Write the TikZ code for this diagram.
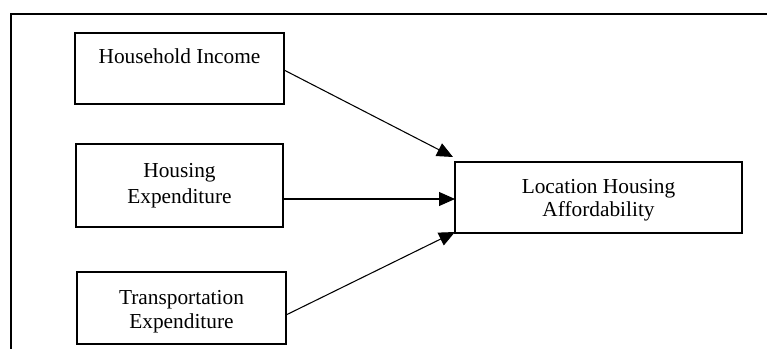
\documentclass[tikz,border=0pt]{standalone}
\usepackage{fontspec}
\setmainfont{Liberation Serif}
\usetikzlibrary{arrows.meta,calc}
\begin{document}
\begin{tikzpicture}[x=0.75pt,y=-0.75pt,
  boxnode/.style={draw=black,line width=2pt,inner sep=0pt,outer sep=0pt},
  txt/.style={font=\fontsize{16}{19}\selectfont,anchor=base,inner sep=0pt},
  conn/.style={line width=0.8pt,-{Triangle[length=12pt,width=10.5pt]}},
  frame/.style={line width=0.8pt}]
\useasboundingbox (0,0) rectangle (767,349);
% frame
\coordinate (f1) at (11,349);
\coordinate (f2) at (11,14);
\coordinate (f3) at (767,14);
\draw[frame] (f1) -- (f2) -- (f3);
% boxes
\node[boxnode,minimum width=209*0.75pt,minimum height=71*0.75pt] (hi) at (179.5,68.5) {};
\node[boxnode,minimum width=207*0.75pt,minimum height=83*0.75pt] (he) at (179.5,185.5) {};
\node[boxnode,minimum width=209*0.75pt,minimum height=72*0.75pt] (te) at (181.5,308) {};
\node[boxnode,minimum width=287*0.75pt,minimum height=71*0.75pt] (la) at (598.5,197.5) {};
% texts
\node[txt] (hit) at (179.5,64) {Household Income};
\node[txt] (het1) at (179.5,177) {Housing};
\node[txt] (het2) at (179.5,203) {Expenditure};
\node[txt] (tet1) at (181.5,304) {Transportation};
\node[txt] (tet2) at (181.5,328) {Expenditure};
\node[txt] (lat1) at (598.5,193) {Location Housing};
\node[txt] (lat2) at (598.5,216) {Affordability};
% connectors
\coordinate (s1) at ($(hi.east)+(0,1.5)$);
\coordinate (t1) at ($(la.north west)+(-2,-5)$);
\coordinate (s2) at ($(he.east)+(0,13.5)$);
\coordinate (t2) at ($(la.west)+(0,1.5)$);
\coordinate (s3) at ($(te.east)+(0,7)$);
\coordinate (t3) at ($(la.south west)+(0,-1)$);
\draw[conn] (s1) -- (t1);
\draw[conn] (s2) -- (t2);
\draw[conn] (s3) -- (t3);
\end{tikzpicture}
\end{document}
